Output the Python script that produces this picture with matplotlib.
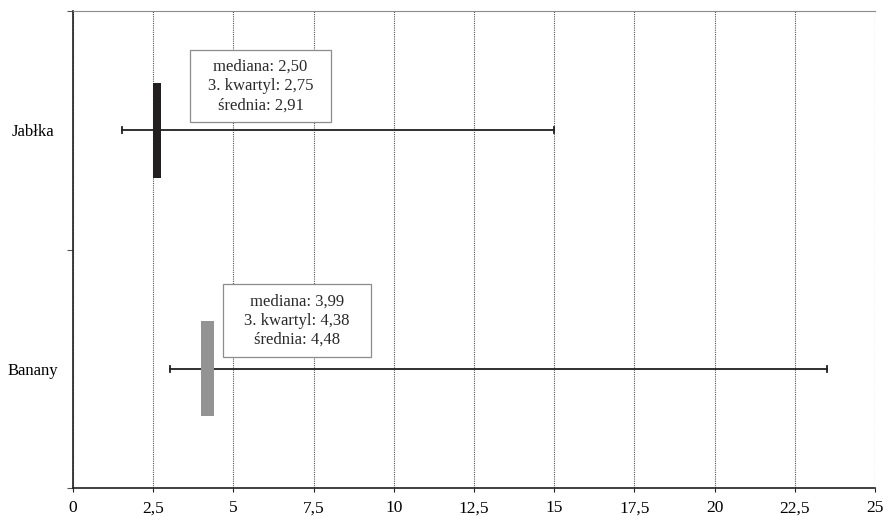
import matplotlib
matplotlib.use("Agg")
import matplotlib.pyplot as plt
from matplotlib.patches import Rectangle
from matplotlib.ticker import FixedLocator, FuncFormatter

categories = ["Jabłka", "Banany"]
whisker_min = [1.53, 3.02]
whisker_max = [15.0, 23.5]
median = [2.50, 3.99]
q3 = [2.75, 4.38]
mean = [2.91, 4.48]
box_colors = ["#231f20", "#939393"]

plt.rcParams["font.family"] = ["Liberation Serif", "DejaVu Serif"]

fig = plt.figure(figsize=(8.83, 5.16), dpi=100)
ax = fig.add_axes([73 / 883, 1 - 488 / 516, (875 - 73) / 883, (488 - 11) / 516])

ypos = [1.5, 0.5]
# annotation frames: (x0, y0, width, height) in data units
frames = [(3.65, 1.534, 4.39, 0.301), (4.68, 0.548, 4.61, 0.306)]


def fmt(v):
    return f"{v:.2f}".replace(".", ",")


for i, name in enumerate(categories):
    y = ypos[i]
    ax.plot([whisker_min[i], whisker_max[i]], [y, y], color="#231f20", lw=1.3, zorder=3)
    for xe in (whisker_min[i], whisker_max[i]):
        ax.plot([xe, xe], [y - 0.012, y + 0.012], color="#231f20", lw=1.3, zorder=3)
    ax.barh(y, q3[i] - median[i], left=median[i], height=0.4,
            color=box_colors[i], zorder=4)
    x0, y0, w, h = frames[i]
    ax.add_patch(Rectangle((x0, y0), w, h, fc="white", ec="#8c8c8c",
                           lw=0.9, zorder=5))
    txt = (f"mediana: {fmt(median[i])}\n3. kwartyl: {fmt(q3[i])}\n"
           f"średnia: {fmt(mean[i])}")
    ax.text(x0 + w / 2, y0 + h / 2, txt, ha="center", va="center",
            fontsize=12, linespacing=1.27, color="#2a2a2a", zorder=6)

ax.set_xlim(0, 25)
ax.set_ylim(0, 2)
ax.xaxis.set_major_locator(FixedLocator([2.5 * k for k in range(11)]))
ax.xaxis.set_major_formatter(FuncFormatter(
    lambda v, p: f"{v:g}".replace(".", ",")))
ax.grid(axis="x", color="#555555", linestyle=(0, (1, 1)), lw=0.8, zorder=0)
ax.set_axisbelow(True)

ax.set_yticks([0, 1, 2])
ax.set_yticklabels([])
ax.set_yticks(ypos, minor=True)
ax.set_yticklabels(categories, minor=True, ha="center")
ax.tick_params(axis="y", which="minor", length=0, pad=29, labelsize=12)
ax.tick_params(axis="y", which="major", length=4, color="#555555")
ax.tick_params(axis="x", length=3, pad=6, labelsize=12.5, color="#231f20")

ax.spines["right"].set_visible(False)
ax.spines["top"].set_color("#8c8c8c")
ax.spines["left"].set_color("#231f20")
ax.spines["bottom"].set_color("#231f20")
ax.spines["left"].set_linewidth(1.2)
ax.spines["bottom"].set_linewidth(1.2)

fig.savefig("out.png", dpi=100)
